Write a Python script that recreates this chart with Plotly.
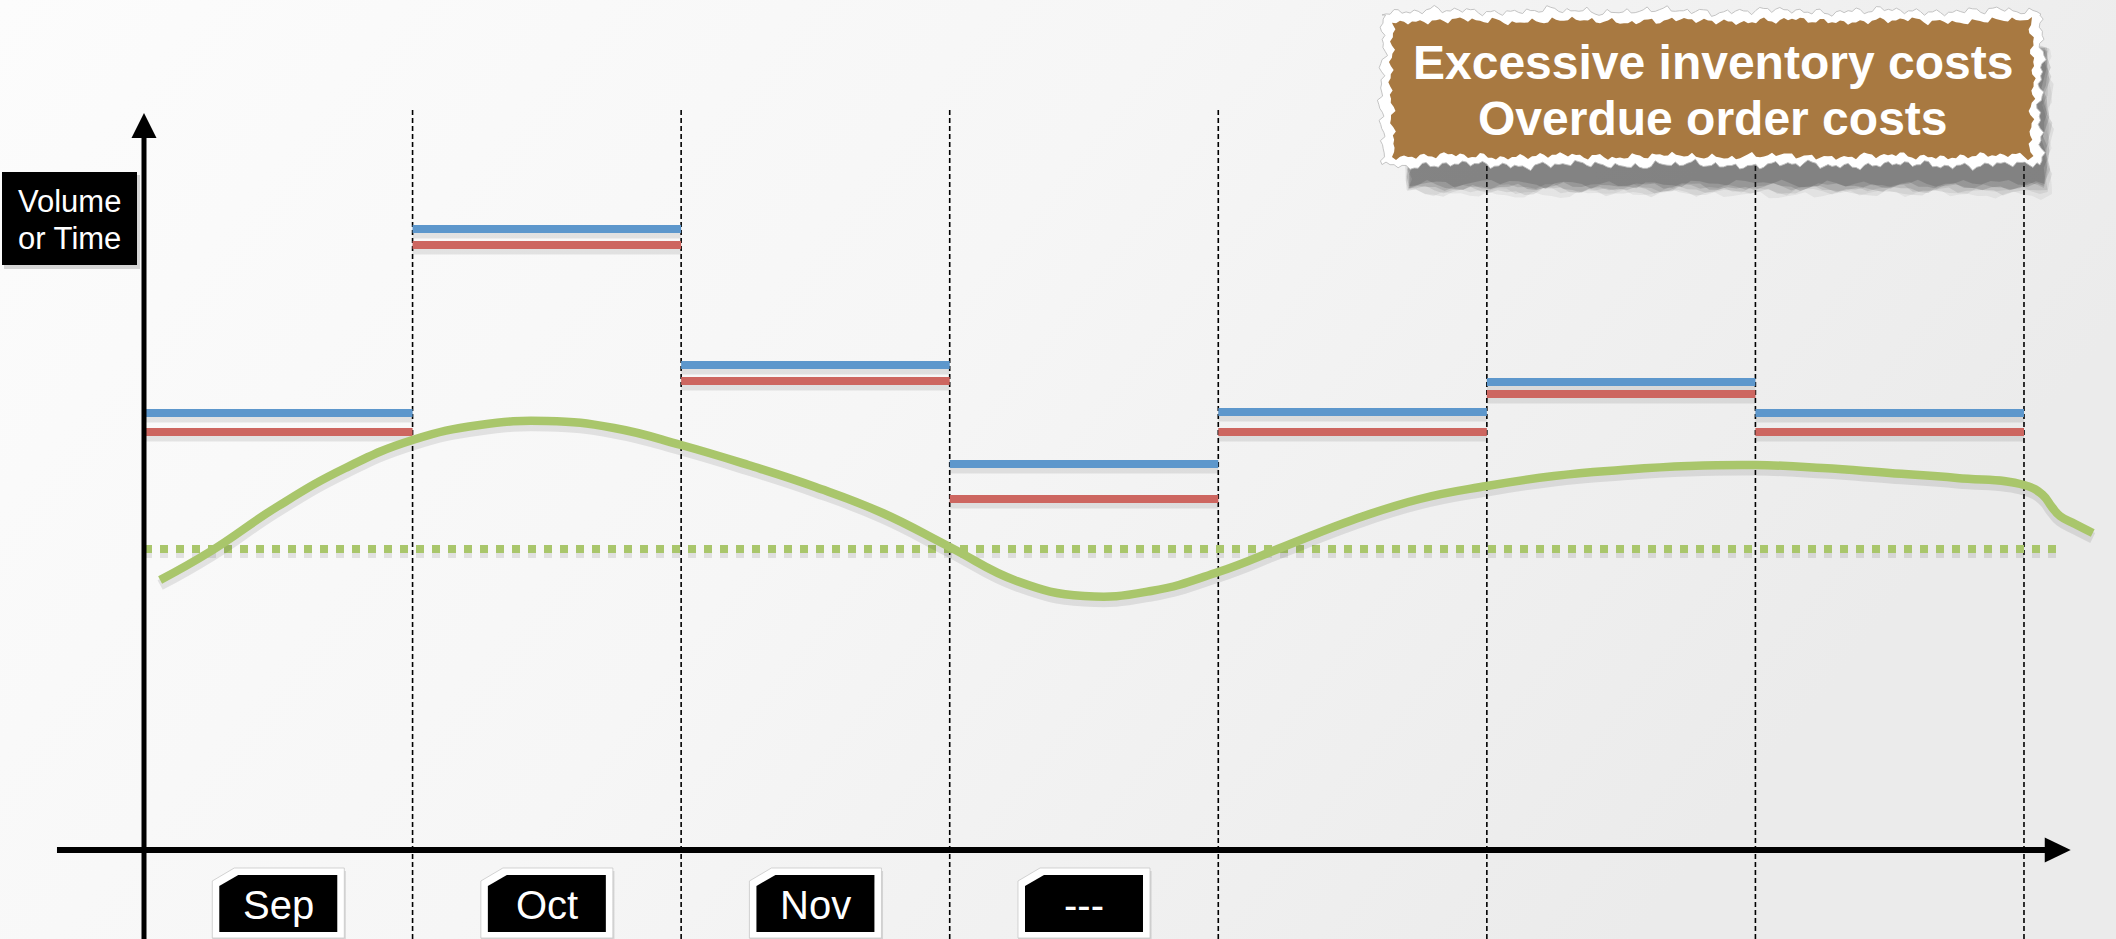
import math
import base64
import plotly.graph_objects as go

# ---------------- data ----------------
months = ["Sep", "Oct", "Nov", "---"]
n_periods = 7
planned_level = [43.7, 62.1, 48.5, 38.6, 43.8, 46.8, 43.7]   # blue
actual_level = [41.8, 60.5, 46.9, 35.1, 41.8, 45.6, 41.8]    # red
target_level = 30.1                                            # dotted green
target_end = 7.126
demand_x = [0.06, 0.25, 0.5, 0.75, 1.0, 1.25, 1.5, 1.75, 2.0, 2.25, 2.5,
            2.75, 3.0, 3.25, 3.5, 3.75, 4.0, 4.25, 4.5, 4.75, 5.0, 5.25,
            5.5, 5.75, 6.0, 6.25, 6.5, 6.75, 7.0, 7.07, 7.104, 7.134,
            7.19, 7.256]
demand_y = [27.0, 29.9, 34.4, 38.2, 41.0, 42.5, 42.9, 42.2, 40.5, 38.5, 36.3,
            33.7, 30.3, 26.9, 25.4, 25.9, 27.8, 30.4, 33.0, 35.1, 36.4, 37.4,
            38.0, 38.4, 38.5, 38.2, 37.7, 37.2, 36.5, 35.5, 34.3, 33.4,
            32.6, 31.7]
y_axis_top = 73.7
x_axis_start, x_axis_end = -0.324, 7.174
divider_top = 74.2
axis_title = ["Volume", "or Time"]
callout = ["Excessive inventory costs", "Overdue order costs"]

# ---------------- canvas geometry ----------------
W, H = 2116, 939
ORIGIN_X_PX, ORIGIN_Y_PX = 144, 850
PX_PER_PERIOD = 268.57
PX_PER_UNIT = 10.0
x_range = [-ORIGIN_X_PX / PX_PER_PERIOD, (W - ORIGIN_X_PX) / PX_PER_PERIOD]
y_range = [(ORIGIN_Y_PX - H) / PX_PER_UNIT, ORIGIN_Y_PX / PX_PER_UNIT]

BLUE = "rgb(93,151,204)"
RED = "rgb(205,102,96)"
GREEN = "rgb(169,198,107)"
SHADOW = "rgba(0,0,0,0.09)"


def fx(px):
    return px / W


def fy(py):
    return 1 - py / H


def steps(levels):
    xs, ys = [], []
    for i, v in enumerate(levels):
        xs += [i, i + 1, None]
        ys += [v, v, None]
    return xs, ys


def lowered(ys, d):
    return [None if v is None else v - d for v in ys]


fig = go.Figure()

# period dividers
dx, dy = [], []
for k in range(1, n_periods + 1):
    dx += [k, k, None]
    dy += [y_range[0], divider_top, None]
fig.add_trace(go.Scatter(x=dx, y=dy, mode="lines", hoverinfo="skip",
                         line=dict(color="black", width=1.6, dash="5px,3px")))

# target level (square dots)
tx = [0, target_end]
ty = [target_level, target_level]
fig.add_trace(go.Scatter(x=tx, y=lowered(ty, 0.45), mode="lines", hoverinfo="skip",
                         line=dict(color=SHADOW, width=9, dash="8px,8px")))
fig.add_trace(go.Scatter(x=tx, y=ty, mode="lines", hoverinfo="skip",
                         line=dict(color=GREEN, width=8, dash="8px,8px")))

# planned / actual step levels
for levels, color in [(planned_level, BLUE), (actual_level, RED)]:
    sx, sy = steps(levels)
    fig.add_trace(go.Scatter(x=sx, y=lowered(sy, 0.45), mode="lines", hoverinfo="skip",
                             line=dict(color=SHADOW, width=10)))
    fig.add_trace(go.Scatter(x=sx, y=sy, mode="lines", hoverinfo="skip",
                             line=dict(color=color, width=8)))

# demand curve
fig.add_trace(go.Scatter(x=demand_x, y=lowered(demand_y, 0.5), mode="lines",
                         hoverinfo="skip",
                         line=dict(color=SHADOW, width=11, shape="spline", smoothing=1.3)))
fig.add_trace(go.Scatter(x=demand_x, y=demand_y, mode="lines", hoverinfo="skip",
                         line=dict(color=GREEN, width=8.5, shape="spline", smoothing=1.3)))

shapes = []

# axes with arrow heads
head_len_y = 25 / PX_PER_UNIT
head_half_y = 12.5 / PX_PER_PERIOD
shapes.append(dict(type="line", xref="x", yref="y", x0=0, x1=0,
                   y0=y_range[0], y1=y_axis_top - head_len_y + 0.2,
                   line=dict(color="black", width=5)))
shapes.append(dict(type="path", xref="x", yref="y", fillcolor="black",
                   line=dict(width=0),
                   path=f"M {-head_half_y} {y_axis_top - head_len_y} L {head_half_y} {y_axis_top - head_len_y} L 0 {y_axis_top} Z"))
head_len_x = 26 / PX_PER_PERIOD
head_half_x = 12.5 / PX_PER_UNIT
shapes.append(dict(type="line", xref="x", yref="y", x0=x_axis_start,
                   x1=x_axis_end - head_len_x + 0.005, y0=0, y1=0,
                   line=dict(color="black", width=6)))
shapes.append(dict(type="path", xref="x", yref="y", fillcolor="black",
                   line=dict(width=0),
                   path=f"M {x_axis_end - head_len_x} {-head_half_x} L {x_axis_end - head_len_x} {head_half_x} L {x_axis_end} 0 Z"))


def poly(points, xref="paper"):
    if xref == "paper":
        pts = [(fx(a), fy(b)) for a, b in points]
    else:
        pts = [(a, fy(b)) for a, b in points]
    return "M " + " L ".join(f"{a:.5f} {b:.5f}" for a, b in pts) + " Z"


# month tabs
half_in = 59 / PX_PER_PERIOD
half_out = 66 / PX_PER_PERIOD
cut_in = 19 / PX_PER_PERIOD
cut_out = 22 / PX_PER_PERIOD
for i, m in enumerate(months):
    c = i + 0.5
    shadow_pts = [(c - half_out, 884), (c - half_out + cut_out, 871),
                  (c + half_out + 0.006, 871), (c + half_out + 0.006, 941),
                  (c - half_out, 941)]
    outer = [(c - half_out, 881), (c - half_out + cut_out, 868),
             (c + half_out, 868), (c + half_out, 938), (c - half_out, 938)]
    inner = [(c - half_in, 886), (c - half_in + cut_in, 875),
             (c + half_in, 875), (c + half_in, 932), (c - half_in, 932)]
    shapes.append(dict(type="path", xref="x", yref="paper", layer="above",
                       path=poly(shadow_pts, "x"), fillcolor="rgba(0,0,0,0.12)",
                       line=dict(width=0)))
    shapes.append(dict(type="path", xref="x", yref="paper", layer="above",
                       path=poly(outer, "x"), fillcolor="white",
                       line=dict(color="rgba(200,200,200,0.8)", width=1)))
    shapes.append(dict(type="path", xref="x", yref="paper", layer="above",
                       path=poly(inner, "x"), fillcolor="black",
                       line=dict(width=0)))

# axis title box
shapes.append(dict(type="rect", xref="paper", yref="paper", layer="above",
                   x0=fx(4), x1=fx(140), y0=fy(269), y1=fy(175),
                   fillcolor="rgba(0,0,0,0.15)", line=dict(width=0)))
shapes.append(dict(type="rect", xref="paper", yref="paper", layer="above",
                   x0=fx(2), x1=fx(137), y0=fy(265), y1=fy(172),
                   fillcolor="black", line=dict(width=0)))


# torn paper callout
def torn(x0, y0, x1, y1, amp, step, ph):
    def j(t):
        return amp * (0.45 * math.sin(t * 1.31 + ph) + 0.3 * math.sin(t * 3.77 + 2.1 * ph)
                      + 0.2 * math.sin(t * 7.13 + 0.7 * ph) + 0.35 * math.sin(t * 0.23 + 3 * ph)
                      + 0.18 * math.sin(t * 11.9 + ph * 1.3))
    pts = []
    n = int((x1 - x0) / step)
    for k in range(n + 1):
        x = x0 + (x1 - x0) * k / n
        pts.append((x, y0 + j(k)))
    m = int((y1 - y0) / step)
    for k in range(1, m + 1):
        y = y0 + (y1 - y0) * k / m
        pts.append((x1 + j(k + 100), y))
    for k in range(1, n + 1):
        x = x1 - (x1 - x0) * k / n
        pts.append((x, y1 + j(k + 200)))
    for k in range(1, m):
        y = y1 - (y1 - y0) * k / m
        pts.append((x0 + j(k + 300), y))
    return poly(pts)


for k, a in enumerate([0.06, 0.08, 0.10, 0.13, 0.16, 0.18]):
    g = 12 - 2 * k
    shapes.append(dict(type="path", xref="paper", yref="paper", layer="above",
                       path=torn(1410 - g * 0.3, 50 - g * 0.2, 2044 + g * 0.5, 182 + g,
                                 5, 9, 1.7 + k),
                       fillcolor=f"rgba(40,40,40,{a})", line=dict(width=0)))
shapes.append(dict(type="path", xref="paper", yref="paper", layer="above",
                   path=torn(1382, 11, 2041, 165, 4.5, 4, 0.4),
                   fillcolor="white", line=dict(color="rgba(190,190,190,0.9)", width=1)))
shapes.append(dict(type="path", xref="paper", yref="paper", layer="above",
                   path=torn(1392, 21, 2032, 156, 4, 4, 2.3),
                   fillcolor="rgb(168,121,65)", line=dict(width=0)))

annotations = []
for i, m in enumerate(months):
    annotations.append(dict(x=i + 0.5, y=fy(905), xref="x", yref="paper",
                            text=m, showarrow=False, xanchor="center", yanchor="middle",
                            font=dict(family="Liberation Sans", size=40, color="white")))
for t, py in zip(axis_title, [201, 239]):
    annotations.append(dict(x=fx(69), y=fy(py), xref="paper", yref="paper",
                            text=t, showarrow=False, xanchor="center", yanchor="middle",
                            font=dict(family="Liberation Sans", size=31, color="white")))
for t, py in zip(callout, [63, 118]):
    annotations.append(dict(x=fx(1713), y=fy(py), xref="paper", yref="paper",
                            text=t, showarrow=False, xanchor="center", yanchor="middle",
                            font=dict(family="Liberation Sans", size=48, color="white",
                                      weight="bold")))

svg = (f'<svg xmlns="http://www.w3.org/2000/svg" width="{W}" height="{H}">'
       '<defs><linearGradient id="g" x1="0" y1="0" x2="1" y2="0.35">'
       '<stop offset="0" stop-color="#fcfcfc"/><stop offset="0.5" stop-color="#f6f6f6"/>'
       '<stop offset="1" stop-color="#ebebeb"/></linearGradient></defs>'
       f'<rect width="{W}" height="{H}" fill="url(#g)"/></svg>')
bg = "data:image/svg+xml;base64," + base64.b64encode(svg.encode()).decode()

fig.update_layout(
    width=W, height=H, autosize=False,
    margin=dict(l=0, r=0, t=0, b=0, pad=0),
    paper_bgcolor="#f4f4f4", plot_bgcolor="rgba(0,0,0,0)",
    showlegend=False,
    xaxis=dict(range=x_range, visible=False, fixedrange=True),
    yaxis=dict(range=y_range, visible=False, fixedrange=True),
    shapes=shapes, annotations=annotations,
    images=[dict(source=bg, xref="paper", yref="paper", x=0, y=1, sizex=1, sizey=1,
                 sizing="stretch", layer="below", xanchor="left", yanchor="top")],
)

fig.write_html("out.html")
